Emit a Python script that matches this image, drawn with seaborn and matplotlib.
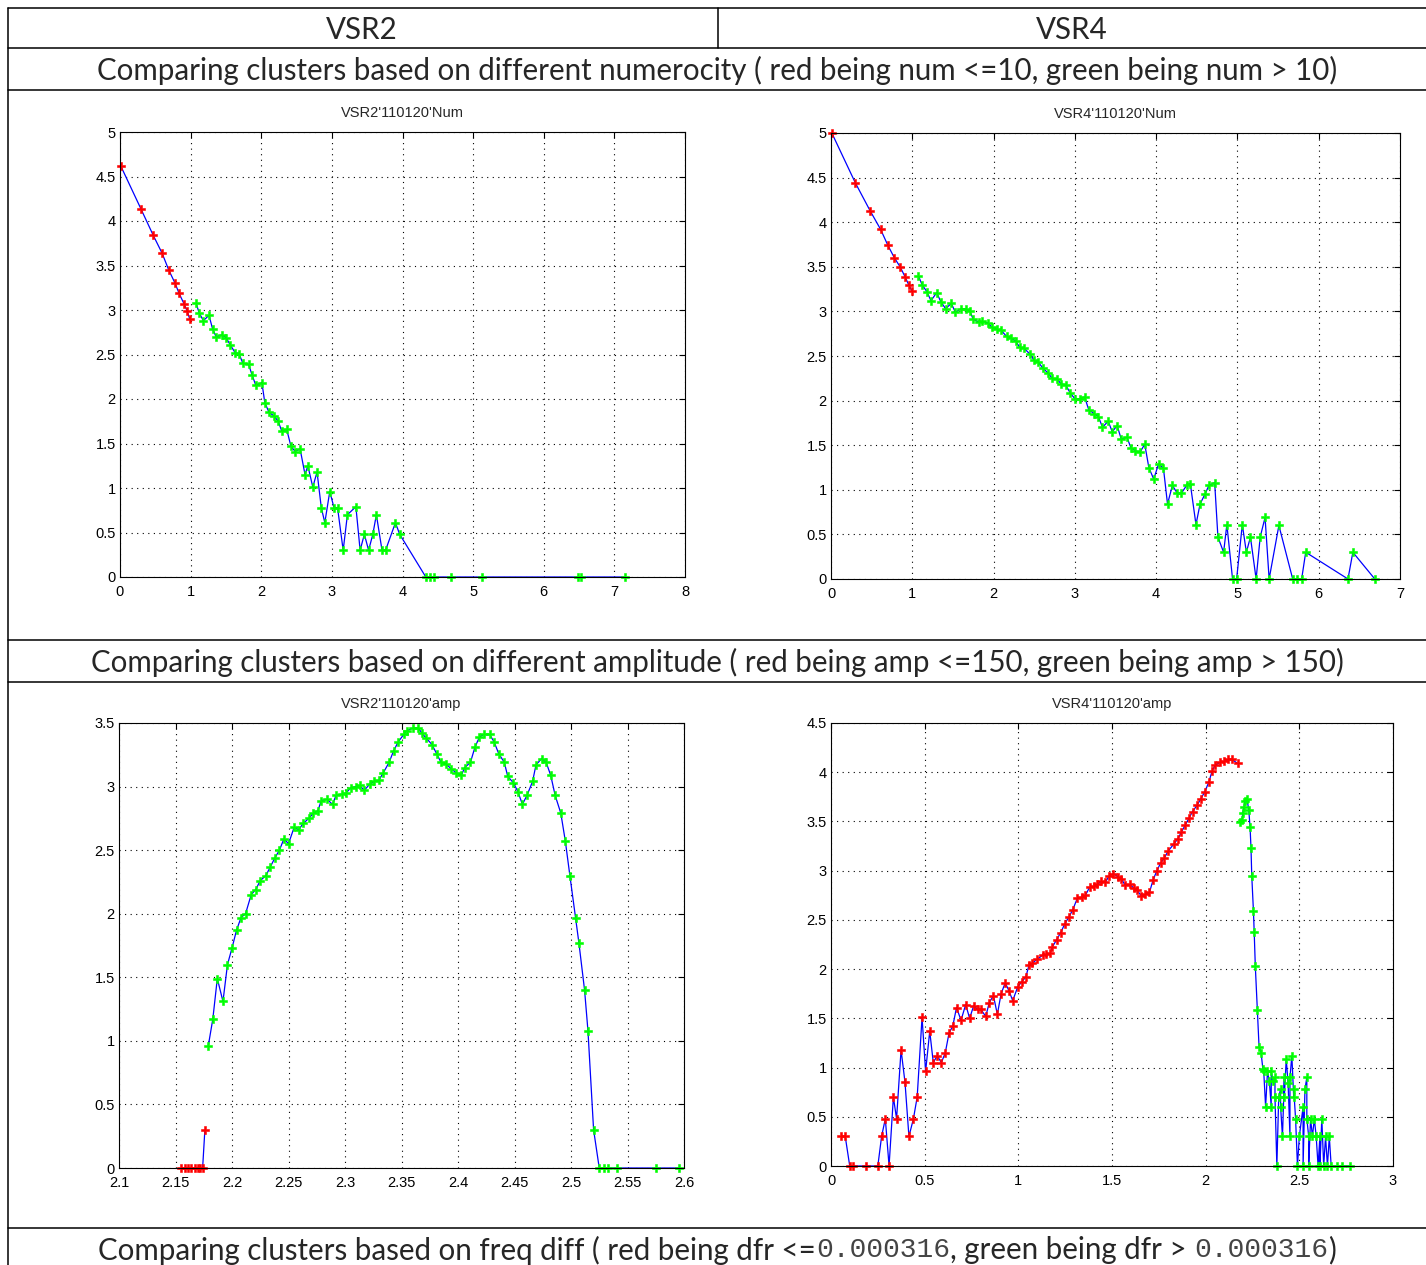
import numpy as np
import matplotlib
matplotlib.use("Agg")
import matplotlib.pyplot as plt
from matplotlib.lines import Line2D
from matplotlib.ticker import MultipleLocator, FormatStrFormatter
import seaborn as sns

W, H = 1426, 1265

# ---- VSR2 num ----
num2_red_x = [0.01, 0.30, 0.47, 0.595, 0.69, 0.78, 0.835, 0.906, 0.95, 0.987]
num2_red_y = [4.62, 4.13, 3.84, 3.64, 3.45, 3.30, 3.19, 3.07, 2.99, 2.90]
num2_green_x = [1.076, 1.12, 1.18, 1.26, 1.31, 1.36, 1.44, 1.50, 1.56, 1.63, 1.685, 1.74, 1.82, 1.87,
                1.92, 2.01, 2.05, 2.11, 2.18, 2.24, 2.29, 2.36, 2.42, 2.48, 2.55, 2.62, 2.66, 2.73,
                2.79, 2.85, 2.90, 2.97, 3.03, 3.08, 3.16, 3.22, 3.34, 3.40, 3.46, 3.52, 3.58, 3.63,
                3.71, 3.76, 3.90, 3.96, 4.33, 4.39, 4.45, 4.69, 5.12, 6.48, 6.53, 7.15]
num2_green_y = [3.08, 2.97, 2.88, 2.94, 2.79, 2.70, 2.72, 2.69, 2.61, 2.52, 2.51, 2.40, 2.39, 2.27,
                2.16, 2.18, 1.96, 1.85, 1.81, 1.75, 1.64, 1.66, 1.47, 1.41, 1.44, 1.15, 1.25, 1.01,
                1.18, 0.78, 0.61, 0.96, 0.78, 0.78, 0.30, 0.70, 0.79, 0.30, 0.48, 0.30, 0.48, 0.70,
                0.30, 0.30, 0.61, 0.48, 0, 0, 0, 0, 0, 0, 0, 0]

# ---- VSR4 num ----
num4_red_x = [0.01, 0.30, 0.48, 0.61, 0.70, 0.78, 0.85, 0.91, 0.955, 0.996]
num4_red_y = [5.0, 4.44, 4.13, 3.92, 3.74, 3.60, 3.50, 3.39, 3.30, 3.23]
num4_green_x = [1.075, 1.12, 1.18, 1.23, 1.30, 1.35, 1.41, 1.48, 1.53, 1.60, 1.66, 1.71, 1.75, 1.82,
                1.86, 1.93, 1.98, 2.04, 2.09, 2.16, 2.21, 2.27, 2.32, 2.37, 2.45, 2.50, 2.55, 2.61,
                2.67, 2.72, 2.78, 2.83, 2.89, 2.94, 3.00, 3.06, 3.12, 3.17, 3.24, 3.29, 3.34, 3.41,
                3.46, 3.52, 3.57, 3.64, 3.69, 3.74, 3.80, 3.86, 3.91, 3.97, 4.03, 4.09, 4.14, 4.20,
                4.26, 4.31, 4.375, 4.42, 4.49, 4.54, 4.60, 4.65, 4.72, 4.76, 4.83, 4.87, 4.94, 4.99,
                5.06, 5.11, 5.16, 5.23, 5.28, 5.34, 5.39, 5.51, 5.68, 5.73, 5.79, 5.84, 6.36, 6.42, 6.69]
num4_green_y = [3.40, 3.30, 3.22, 3.12, 3.21, 3.11, 3.03, 3.09, 2.99, 3.03, 3.03, 3.00, 2.91, 2.88,
                2.89, 2.87, 2.82, 2.80, 2.79, 2.72, 2.70, 2.67, 2.60, 2.59, 2.52, 2.45, 2.43, 2.36,
                2.31, 2.25, 2.24, 2.19, 2.17, 2.09, 2.02, 2.02, 2.04, 1.90, 1.85, 1.82, 1.70, 1.77,
                1.65, 1.72, 1.57, 1.59, 1.47, 1.44, 1.42, 1.51, 1.25, 1.12, 1.29, 1.24, 0.84, 1.05,
                0.96, 0.96, 1.05, 1.07, 0.61, 0.84, 0.95, 1.05, 1.08, 0.47, 0.30, 0.61, 0, 0,
                0.61, 0.30, 0.47, 0, 0.47, 0.69, 0, 0.60, 0, 0, 0, 0.30, 0, 0.30, 0]

# ---- VSR2 amp ----
amp2_red_x = [2.155, 2.158, 2.161, 2.164, 2.167, 2.170, 2.172, 2.174, 2.176]
amp2_red_y = [0, 0, 0, 0, 0, 0, 0, 0, 0.30]
amp2_green_x = [2.179, 2.183, 2.187, 2.192, 2.196, 2.200, 2.204, 2.208, 2.212, 2.217, 2.221, 2.225,
                2.230, 2.234, 2.238, 2.242, 2.246, 2.250, 2.255, 2.259, 2.263, 2.268, 2.272, 2.276,
                2.279, 2.284, 2.289, 2.292, 2.297, 2.301, 2.305, 2.310, 2.313, 2.317, 2.322, 2.326,
                2.330, 2.334, 2.339, 2.343, 2.347, 2.352, 2.355, 2.360, 2.365, 2.368, 2.372, 2.377,
                2.381, 2.385, 2.389, 2.394, 2.398, 2.403, 2.406, 2.411, 2.415, 2.419, 2.423, 2.428,
                2.432, 2.436, 2.441, 2.444, 2.449, 2.453, 2.457, 2.461, 2.466, 2.469, 2.474, 2.478,
                2.482, 2.486, 2.491, 2.495, 2.499, 2.504, 2.507, 2.512, 2.515, 2.520, 2.525, 2.529,
                2.533, 2.541, 2.575, 2.596]
amp2_green_y = [0.96, 1.17, 1.49, 1.31, 1.60, 1.73, 1.87, 1.97, 2.00, 2.15, 2.19, 2.26,
                2.30, 2.37, 2.44, 2.50, 2.59, 2.55, 2.68, 2.66, 2.71, 2.75, 2.79, 2.81,
                2.89, 2.90, 2.86, 2.93, 2.94, 2.95, 2.99, 3.00, 3.01, 2.97, 3.02, 3.04,
                3.05, 3.11, 3.19, 3.28, 3.35, 3.41, 3.44, 3.46, 3.46, 3.42, 3.38, 3.33,
                3.26, 3.19, 3.18, 3.14, 3.11, 3.09, 3.15, 3.19, 3.31, 3.39, 3.41, 3.41,
                3.35, 3.26, 3.19, 3.08, 3.03, 2.96, 2.86, 2.93, 3.04, 3.17, 3.22, 3.19,
                3.09, 2.93, 2.79, 2.57, 2.30, 1.97, 1.77, 1.40, 1.08, 0.30, 0, 0,
                0, 0, 0, 0]

# ---- VSR4 amp ----
amp4_red_x = [0.055, 0.076, 0.10, 0.12, 0.187, 0.25, 0.27, 0.29, 0.31, 0.333, 0.35, 0.374, 0.395,
              0.416, 0.44, 0.46, 0.486, 0.505, 0.527, 0.546, 0.567, 0.589, 0.61, 0.63, 0.65, 0.67,
              0.694, 0.719, 0.74, 0.762, 0.783, 0.80, 0.826, 0.845, 0.867, 0.888, 0.908, 0.93, 0.95,
              0.97, 0.997, 1.018, 1.04, 1.057, 1.075, 1.10, 1.13, 1.15, 1.17, 1.18, 1.205, 1.226,
              1.248, 1.27, 1.29, 1.315, 1.34, 1.358, 1.38, 1.404, 1.42, 1.443, 1.464, 1.486, 1.507,
              1.53, 1.55, 1.57, 1.596, 1.618, 1.635, 1.657, 1.678, 1.70, 1.72, 1.74, 1.76, 1.78,
              1.80, 1.83, 1.85, 1.87, 1.89, 1.91, 1.93, 1.956, 1.974, 1.995, 2.017, 2.034, 2.05,
              2.077, 2.098, 2.12, 2.14, 2.17]
amp4_red_y = [0.30, 0.30, 0, 0, 0, 0, 0.30, 0.48, 0, 0.70, 0.48, 1.18, 0.85,
              0.30, 0.48, 0.70, 1.51, 0.96, 1.37, 1.05, 1.12, 1.05, 1.15, 1.35, 1.42, 1.61,
              1.48, 1.64, 1.50, 1.63, 1.59, 1.59, 1.52, 1.66, 1.73, 1.54, 1.75, 1.86, 1.78,
              1.68, 1.82, 1.87, 1.92, 2.04, 2.06, 2.10, 2.14, 2.15, 2.16, 2.22, 2.30, 2.37,
              2.46, 2.53, 2.60, 2.72, 2.73, 2.75, 2.83, 2.84, 2.86, 2.89, 2.88, 2.95, 2.97,
              2.94, 2.92, 2.85, 2.86, 2.82, 2.80, 2.74, 2.76, 2.78, 2.91, 3.00, 3.08, 3.13,
              3.20, 3.27, 3.32, 3.39, 3.46, 3.53, 3.60, 3.67, 3.73, 3.80, 3.90, 4.01, 4.07,
              4.10, 4.11, 4.13, 4.13, 4.09]
amp4_green_x = [2.184, 2.194, 2.198, 2.205, 2.21, 2.22, 2.23, 2.237, 2.242, 2.246, 2.255, 2.259,
                2.265, 2.276, 2.285, 2.296, 2.305, 2.31, 2.32, 2.33, 2.34, 2.35, 2.35, 2.36, 2.37,
                2.37, 2.38, 2.39, 2.40, 2.40, 2.41, 2.42, 2.42, 2.43, 2.44, 2.45, 2.45, 2.46, 2.47,
                2.47, 2.48, 2.49, 2.50, 2.52, 2.52, 2.53, 2.54, 2.54, 2.55, 2.55, 2.56, 2.57, 2.58,
                2.59, 2.60, 2.61, 2.61, 2.62, 2.63, 2.64, 2.65, 2.66, 2.67, 2.70, 2.73, 2.77]
amp4_green_y = [3.49, 3.51, 3.59, 3.65, 3.71, 3.73, 3.62, 3.44, 3.23, 2.95, 2.59, 2.38,
                2.03, 1.58, 1.21, 1.15, 0.99, 0.96, 0.60, 0.96, 0.86, 0.60, 0.96, 0.86, 0.90,
                0.70, 0, 0.70, 0.78, 0.60, 0.30, 0.90, 0.70, 1.09, 0.84, 0.30, 0.90, 1.12, 0.70,
                0.78, 0.48, 0, 0.30, 0.60, 0, 0.78, 0.90, 0.48, 0.30, 0, 0.48, 0.30, 0.48,
                0.30, 0, 0.30, 0, 0.48, 0, 0.30, 0, 0.30, 0, 0, 0, 0]

header_labels = ["VSR2", "VSR4"]
row_num = "Comparing clusters based on different numerocity ( red being num <=10, green being num > 10)"
row_amp = "Comparing clusters based on different amplitude ( red being amp <=150, green being amp > 150)"
row_dfr = ["Comparing clusters based on freq diff ( red being dfr <=", "0.000316",
           ", green being dfr > ", "0.000316", ")"]

sns.set_style("white")
plt.rcParams['font.family'] = ['Liberation Sans', 'DejaVu Sans']

fig = plt.figure(figsize=(W / 100, H / 100), dpi=100)
renderer = fig.canvas.get_renderer()


def fx(x):
    return x / W


def fy(y):
    return 1 - y / H


def hline(y, x0=8, x1=W):
    fig.add_artist(Line2D([fx(x0), fx(x1)], [fy(y), fy(y)], color='k', lw=1.1,
                          transform=fig.transFigure))


def vline(x, y0, y1):
    fig.add_artist(Line2D([fx(x), fx(x)], [fy(y0), fy(y1)], color='k', lw=1.1,
                          transform=fig.transFigure))


def panel(l, t, r, b):
    return fig.add_axes([fx(l), fy(b), (r - l) / W, (b - t) / H])


def draw(ax, xs, ys, color):
    sns.lineplot(x=xs, y=ys, ax=ax, sort=False, estimator=None, color='#0000ff', lw=0.9,
                 marker='P', markersize=5.5, markerfacecolor=color, markeredgecolor=color,
                 markeredgewidth=0.4, clip_on=False, legend=False)


def style(ax, title, xlim, ylim, xstep, ystep):
    ax.set_xlim(xlim)
    ax.set_ylim(ylim)
    ax.xaxis.set_major_locator(MultipleLocator(xstep))
    ax.yaxis.set_major_locator(MultipleLocator(ystep))
    ax.xaxis.set_major_formatter(FormatStrFormatter('%g'))
    ax.yaxis.set_major_formatter(FormatStrFormatter('%g'))
    ax.grid(True, color='k', lw=0.8, ls=(0, (1, 4)))
    ax.set_axisbelow(True)
    ax.tick_params(direction='in', top=True, right=True, length=4, width=0.8,
                   labelsize=10.5, colors='k')
    ax.tick_params(axis='x', pad=6)
    ax.tick_params(axis='y', pad=3)
    for s in ax.spines.values():
        s.set_visible(True)
        s.set_color('k')
        s.set_linewidth(0.8)
    ax.set_title(title, fontsize=10.5, pad=11)
    ax.set_xlabel('')
    ax.set_ylabel('')


ax1 = panel(120, 132, 685, 577)
draw(ax1, num2_red_x, num2_red_y, '#ff0000')
draw(ax1, num2_green_x, num2_green_y, '#00ff00')
style(ax1, "VSR2'110120'Num", (0, 8), (0, 5), 1, 0.5)

ax2 = panel(831, 133, 1400, 579)
draw(ax2, num4_red_x, num4_red_y, '#ff0000')
draw(ax2, num4_green_x, num4_green_y, '#00ff00')
style(ax2, "VSR4'110120'Num", (0, 7), (0, 5), 1, 0.5)

ax3 = panel(119, 723, 684, 1168)
draw(ax3, amp2_red_x, amp2_red_y, '#ff0000')
draw(ax3, amp2_green_x, amp2_green_y, '#00ff00')
style(ax3, "VSR2'110120'amp", (2.1, 2.6), (0, 3.5), 0.05, 0.5)

ax4 = panel(831, 723, 1393, 1166)
draw(ax4, amp4_red_x, amp4_red_y, '#ff0000')
draw(ax4, amp4_green_x, amp4_green_y, '#00ff00')
style(ax4, "VSR4'110120'amp", (0, 3), (0, 4.5), 0.5, 0.5)

# table frame
for y in [8, 48, 90, 640, 682, 1228]:
    hline(y)
vline(8, 8, H)
vline(718, 8, 48)

# table text, sized so the numerocity row spans its width in the reference
sans = ['Lato', 'DejaVu Sans']
probe = fig.text(0, 0, row_num, fontsize=20, family=sans)
fs = 20 * 1246 / probe.get_window_extent(renderer).width
probe.remove()

fig.text(fx(362), fy(30), header_labels[0], fontsize=fs, family=sans, ha='center', va='center')
fig.text(fx(1072), fy(30), header_labels[1], fontsize=fs, family=sans, ha='center', va='center')
fig.text(fx(717), fy(70), row_num, fontsize=fs, family=sans, ha='center', va='center')
fig.text(fx(717), fy(662), row_amp, fontsize=fs, family=sans, ha='center', va='center')

# last row mixes a sans font with a monospace number
parts = []
for i, s in enumerate(row_dfr):
    if i % 2:
        t = fig.text(0, fy(1250), s, fontsize=fs * 0.95, family=['Liberation Mono'],
                     color='#444444', va='center')
    else:
        t = fig.text(0, fy(1250), s, fontsize=fs, family=sans, va='center')
    parts.append(t)
widths = [t.get_window_extent(renderer).width for t in parts]
x = 717 - sum(widths) / 2
for t, w in zip(parts, widths):
    t.set_x(fx(x))
    x += w

fig.savefig("out.png", dpi=100)
